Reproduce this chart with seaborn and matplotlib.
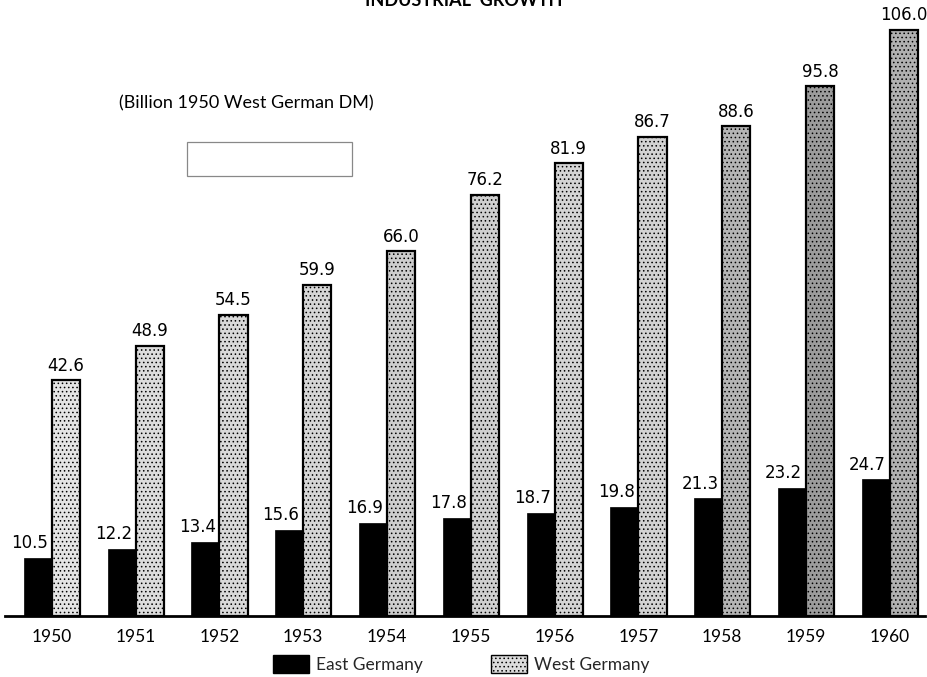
import matplotlib
matplotlib.use("Agg")
import matplotlib.pyplot as plt
import matplotlib.patches as mpatches
import seaborn as sns
import pandas as pd

years = ["1950", "1951", "1952", "1953", "1954", "1955", "1956", "1957", "1958", "1959", "1960"]
east_germany = [10.5, 12.2, 13.4, 15.6, 16.9, 17.8, 18.7, 19.8, 21.3, 23.2, 24.7]
west_germany = [42.6, 48.9, 54.5, 59.9, 66.0, 76.2, 81.9, 86.7, 88.6, 95.8, 106.0]
series = ["East Germany", "West Germany"]

df = pd.DataFrame({
    "year": years * 2,
    "value": east_germany + west_germany,
    "country": [series[0]] * len(years) + [series[1]] * len(years),
})

sns.set_theme(style="white")
plt.rcParams["font.family"] = ["Lato", "DejaVu Sans"]
plt.rcParams["hatch.color"] = "#606060"
plt.rcParams["hatch.linewidth"] = 0.6

W, H = 927, 677
fig = plt.figure(figsize=(W / 100, H / 100), dpi=100)
ax = fig.add_axes([5 / W, (H - 616) / H, 920 / W, (616 - 20) / H])

sns.barplot(data=df, x="year", y="value", hue="country", hue_order=series,
            palette=["black", "#d8d8d8"], width=0.67, dodge=True, gap=0,
            legend=False, saturation=1, ax=ax)

west_shades = ["#e4e4e4", "#dcdcdc", "#d9d9d9", "#d6d6d6", "#cdcdcd", "#cfcfcf",
               "#d4d4d4", "#d2d2d2", "#b4b4b4", "#9c9c9c", "#b0b0b0"]

east_c, west_c = ax.containers[0], ax.containers[1]
for p in east_c.patches:
    p.set_facecolor("black")
    p.set_edgecolor("black")
    p.set_linewidth(0.5)
for p, c in zip(west_c.patches, west_shades):
    p.set_facecolor(c)
    p.set_edgecolor("black")
    p.set_linewidth(1.6)
    p.set_hatch("....")

label_font = dict(fontsize=12, color="black", family=["DejaVu Sans"])
east_labels = ax.bar_label(east_c, fmt="%.1f", padding=4, **label_font)
# East labels sit slightly left of their bars in the original
for t in east_labels:
    t.xyann = (-6, t.xyann[1])
ax.bar_label(west_c, fmt="%.1f", padding=4, **label_font)

ax.set_xlim(-0.56, 10.42)
ax.set_ylim(0, 107.8)
ax.set_xlabel("")
ax.set_ylabel("")
ax.set_yticks([])
for s in ["top", "right", "left"]:
    ax.spines[s].set_visible(False)
ax.spines["bottom"].set_linewidth(2)
ax.spines["bottom"].set_color("black")
ax.tick_params(axis="x", length=0, pad=9, labelsize=12.5, colors="black")

fig.text(0.5, 1.0, "INDUSTRIAL  GROWTH", ha="center", va="center",
         fontsize=13, fontweight="bold", color="black")
fig.text(246 / W, 1 - 103 / H, "(Billion 1950 West German DM)", ha="center",
         va="center", fontsize=13, color="black")
fig.patches.append(mpatches.Rectangle((187 / W, 1 - 176 / H), 165 / W, 34 / H,
                                      transform=fig.transFigure, fill=False,
                                      edgecolor="#888888", linewidth=0.9))

handles = [
    mpatches.Patch(facecolor="black", edgecolor="black", label=series[0]),
    mpatches.Patch(facecolor="#dcdcdc", edgecolor="black", hatch="....", label=series[1]),
]
fig.legend(handles=handles, loc="center", bbox_to_anchor=(461 / W, 1 - 664 / H),
           ncol=2, frameon=False, fontsize=12.5, handlelength=2.1, handleheight=1.2,
           columnspacing=3.9, handletextpad=0.4)

fig.savefig("out.png", dpi=100)
